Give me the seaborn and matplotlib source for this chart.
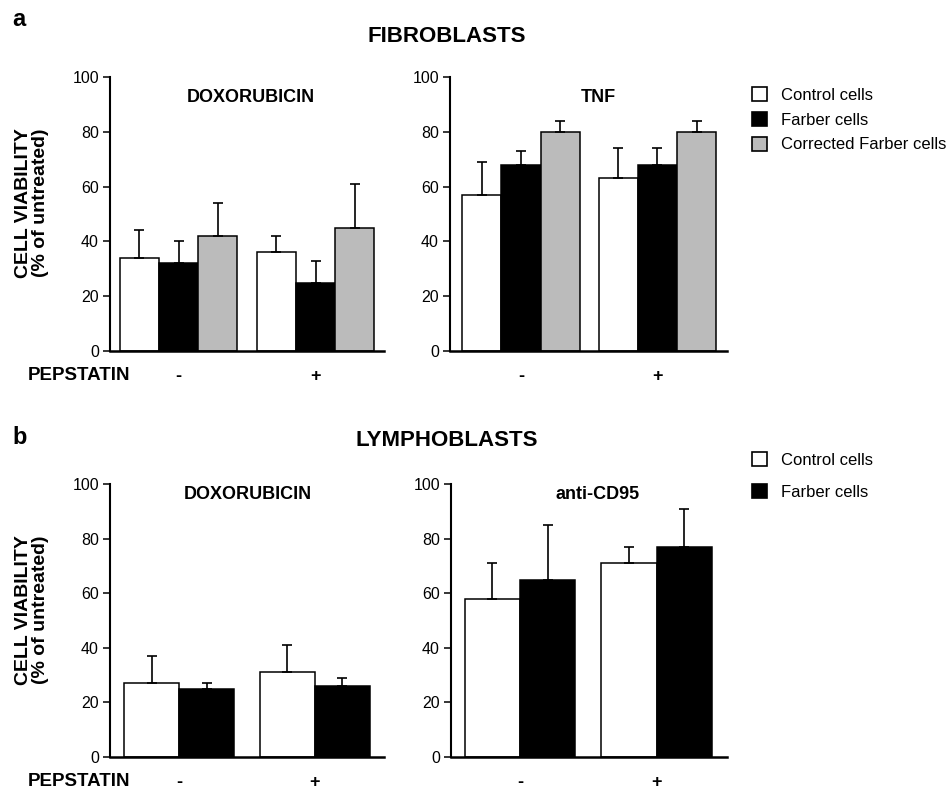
import numpy as np
import pandas as pd
import seaborn as sns
import matplotlib
matplotlib.use("Agg")
import matplotlib.pyplot as plt
from matplotlib.patches import Patch

# ---- data -------------------------------------------------------------
pepstatin = ["-", "+"]
fib_cells = ["Control cells", "Farber cells", "Corrected Farber cells"]
lym_cells = ["Control cells", "Farber cells"]

# rows follow the cell types, columns follow pepstatin (-, +)
fib_dox_mean = [[34, 36], [32, 25], [42, 45]]
fib_dox_sem = [[10, 6], [8, 8], [12, 16]]
fib_tnf_mean = [[57, 63], [68, 68], [80, 80]]
fib_tnf_sem = [[12, 11], [5, 6], [4, 4]]

lym_dox_mean = [[27, 31], [25, 26]]
lym_dox_sem = [[10, 10], [2, 3]]
lym_cd95_mean = [[58, 71], [65, 77]]
lym_cd95_sem = [[13, 6], [20, 14]]

yticks = [0, 20, 40, 60, 80, 100]

cell_colors = {"Control cells": "white",
               "Farber cells": "black",
               "Corrected Farber cells": "#bbbbbb"}

# ---- style ------------------------------------------------------------
sns.set_theme(style="ticks")
plt.rcParams["font.family"] = ["Liberation Sans", "DejaVu Sans"]
plt.rcParams.update({
    "axes.linewidth": 1.6,
    "text.color": "black",
    "axes.labelcolor": "black",
    "axes.edgecolor": "black",
    "xtick.color": "black",
    "ytick.color": "black",
})

W, H = 949, 793
fig = plt.figure(figsize=(W / 100, H / 100), dpi=100)


def px_axes(x0, x1, ytop, ybot):
    return fig.add_axes([x0 / W, 1 - ybot / H, (x1 - x0) / W, (ybot - ytop) / H])


def draw_panel(ax, cells, mean, sem, title, title_x, title_y, width, xlim):
    df = pd.DataFrame({
        "pepstatin": [p for _ in cells for p in pepstatin],
        "cell": [c for c in cells for _ in pepstatin],
        "viability": [v for row in mean for v in row],
    })
    sns.barplot(data=df, x="pepstatin", y="viability", hue="cell",
                order=pepstatin, hue_order=cells,
                palette=[cell_colors[c] for c in cells],
                width=width, gap=0, errorbar=None, edgecolor="black",
                linewidth=1.1, saturation=1, legend=False, ax=ax)
    # upper-only error bars with caps
    for cont, errs in zip(ax.containers, sem):
        xs = [b.get_x() + b.get_width() / 2 for b in cont]
        ys = [b.get_height() for b in cont]
        ax.errorbar(xs, ys, yerr=[np.zeros(len(errs)), errs], fmt="none",
                    ecolor="black", elinewidth=1.2, capsize=3.3,
                    capthick=1.2, zorder=1)
    ax.set_ylim(0, 100)
    ax.set_xlim(*xlim)
    ax.set_yticks(yticks)
    ax.set_xlabel("")
    ax.set_ylabel("")
    ax.tick_params(axis="y", length=5, width=1.1, pad=3, labelsize=11.5,
                   colors="black")
    ax.tick_params(axis="x", length=0, pad=12, labelsize=13, colors="black")
    for lab in ax.get_xticklabels():
        lab.set_fontweight("bold")
    sns.despine(ax=ax)
    ax.spines["left"].set_linewidth(1.5)
    ax.spines["bottom"].set_linewidth(1.8)
    ax.text(title_x, title_y, title, transform=ax.transAxes,
            ha="center", va="center", fontsize=13, fontweight="bold",
            color="black")


# panel a : fibroblasts
ax1 = px_axes(110, 384, 77, 351)
draw_panel(ax1, fib_cells, fib_dox_mean, fib_dox_sem, "DOXORUBICIN",
           0.515, 0.926, 0.86, (-0.5, 1.5))
ax2 = px_axes(450, 727, 77, 351)
draw_panel(ax2, fib_cells, fib_tnf_mean, fib_tnf_sem, "TNF",
           0.537, 0.926, 0.86, (-0.52, 1.51))

# panel b : lymphoblasts
ax3 = px_axes(110, 384, 484, 757)
draw_panel(ax3, lym_cells, lym_dox_mean, lym_dox_sem, "DOXORUBICIN",
           0.504, 0.96, 0.81, (-0.51, 1.51))
ax4 = px_axes(451, 727, 484, 757)
draw_panel(ax4, lym_cells, lym_cd95_mean, lym_cd95_sem, "anti-CD95",
           0.53, 0.96, 0.81, (-0.505, 1.515))


def ftext(x, y, s, **kw):
    fig.text(x / W, 1 - y / H, s, color="black", **kw)


ftext(19, 19, "a", fontsize=17, fontweight="bold", ha="center", va="center")
ftext(20, 438, "b", fontsize=17, fontweight="bold", ha="center", va="center")
ftext(447, 37, "FIBROBLASTS", fontsize=16, fontweight="bold", ha="center", va="center")
ftext(447, 441, "LYMPHOBLASTS", fontsize=16, fontweight="bold", ha="center", va="center")

ylab = "CELL VIABILITY\n(% of untreated)"
ftext(32, 203, ylab, fontsize=14, fontweight="bold", rotation=90,
      ha="center", va="center", multialignment="center", linespacing=1.0)
ftext(32, 610, ylab, fontsize=14, fontweight="bold", rotation=90,
      ha="center", va="center", multialignment="center", linespacing=1.0)
ftext(28, 375, "PEPSTATIN", fontsize=13.5, fontweight="bold", ha="left", va="center")
ftext(28, 782, "PEPSTATIN", fontsize=13.5, fontweight="bold", ha="left", va="center")


def legend(cells, ytop, spacing):
    handles = [Patch(facecolor=cell_colors[c], edgecolor="black", linewidth=1.2)
               for c in cells]
    leg = fig.legend(handles, cells, loc="upper left",
                     bbox_to_anchor=(752 / W, 1 - ytop / H), frameon=False,
                     fontsize=12, handlelength=0.9, handleheight=0.9,
                     handletextpad=0.85, labelspacing=spacing, borderpad=0,
                     borderaxespad=0)
    for t in leg.get_texts():
        t.set_color("black")


legend(fib_cells, 87, 0.55)
legend(lym_cells, 452, 1.0)

fig.savefig("out.png", dpi=100)
